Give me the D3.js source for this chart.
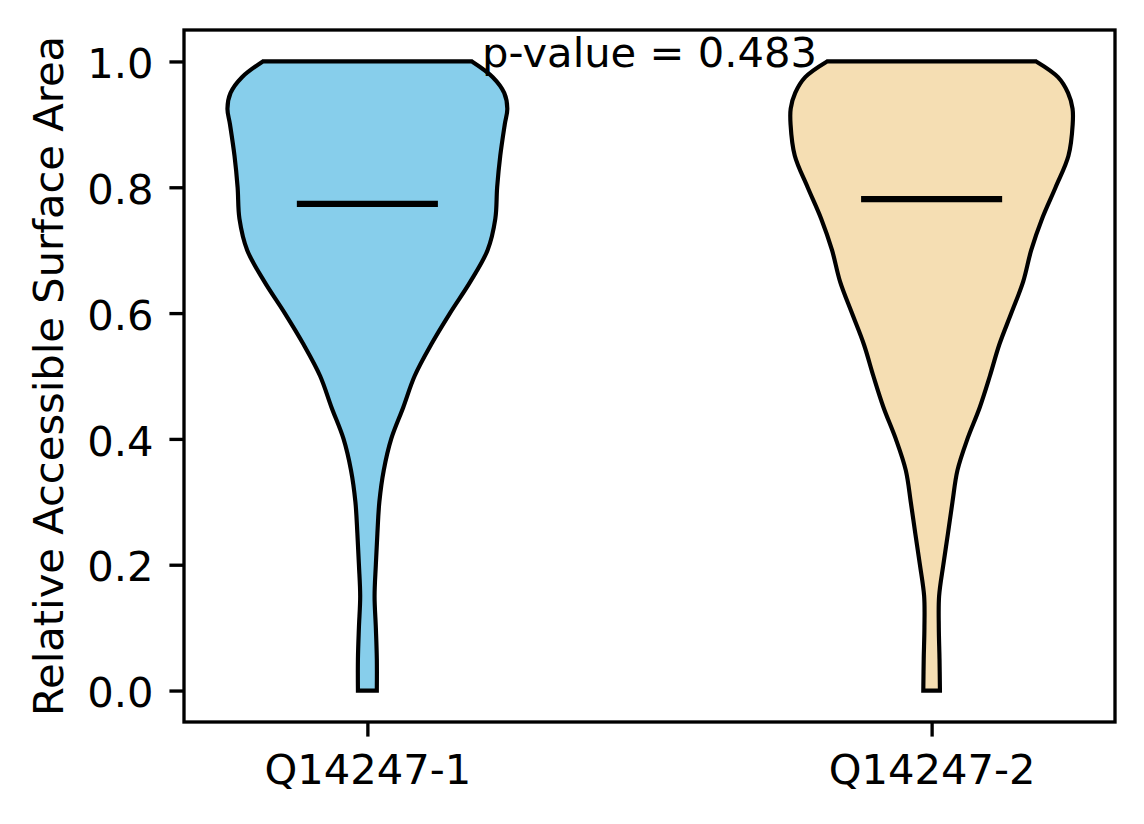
<!DOCTYPE html>
<html>
<head>
<meta charset="utf-8">
<script src="https://cdn.jsdelivr.net/npm/d3@7"></script>
<style>
  html, body { margin: 0; padding: 0; background: #fff; }
  svg { display: block; }
  text { font-family: "DejaVu Sans", sans-serif; }
</style>
</head>
<body>
<svg id="chart" width="1144" height="824"></svg>
<script>
// ---- data ----
const categories = ["Q14247-1", "Q14247-2"];
const positions = [1, 2];
const colors = ["#87CEEB", "#F5DEB3"];
// RSA grid at which the violin outline (relative density) was read
const rsaGrid = [0.00, 0.05, 0.10, 0.15, 0.20, 0.25, 0.30, 0.35, 0.40, 0.45, 0.50,
                 0.55, 0.60, 0.65, 0.70, 0.75, 0.80, 0.85, 0.90, 0.925, 0.95, 0.975, 1.00];
const densityQ1 = [0.067, 0.067, 0.060, 0.051, 0.060, 0.071, 0.085, 0.116, 0.169, 0.254, 0.335,
                   0.452, 0.586, 0.730, 0.852, 0.907, 0.920, 0.942, 0.974, 0.992, 0.970, 0.889, 0.741];
const densityQ2 = [0.059, 0.056, 0.051, 0.053, 0.083, 0.116, 0.148, 0.183, 0.254, 0.341, 0.413,
                   0.480, 0.565, 0.649, 0.706, 0.783, 0.879, 0.970, 1.000, 0.999, 0.967, 0.896, 0.741];
const medians = [0.7735, 0.781];
const yTicks = [0.0, 0.2, 0.4, 0.6, 0.8, 1.0];
const pValueText = "p-value = 0.483";
const yLabel = "Relative Accessible Surface Area";

// ---- layout ----
const W = 1144, H = 824;
const plot = { left: 184, right: 1115, top: 30, bottom: 722 };
const dpi = 300 / 72;
const fontPx = 10 * dpi;
const violinWidth = 0.5;

const svg = d3.select("#chart");

const x = d3.scaleLinear().domain([0.675, 2.325]).range([plot.left, plot.right]);
const y = d3.scaleLinear().domain([-0.05, 1.05]).range([plot.bottom, plot.top]);

const densities = [densityQ1, densityQ2];

// violins
densities.forEach((dens, i) => {
  const pos = positions[i];
  const pts = rsaGrid.map((v, j) => ({ v, d: dens[j] }));
  const area = d3.area()
    .y(d => y(d.v))
    .x0(d => x(pos - d.d * violinWidth / 2))
    .x1(d => x(pos + d.d * violinWidth / 2))
    .curve(d3.curveCatmullRom.alpha(0.5));
  svg.append("path")
    .datum(pts)
    .attr("d", area)
    .attr("fill", colors[i])
    .attr("stroke", "#000")
    .attr("stroke-width", 1 * dpi)
    .attr("stroke-linejoin", "miter");
  // median line
  svg.append("line")
    .attr("x1", x(pos - violinWidth / 4))
    .attr("x2", x(pos + violinWidth / 4))
    .attr("y1", y(medians[i]))
    .attr("y2", y(medians[i]))
    .attr("stroke", "#000")
    .attr("stroke-width", 1.5 * dpi);
});

// axes
const yAxis = d3.axisLeft(y).tickValues(yTicks).tickFormat(d3.format(".1f"))
  .tickSize(3.5 * dpi).tickPadding(16);
const gy = svg.append("g").attr("transform", `translate(${plot.left},0)`).call(yAxis);
gy.select(".domain").remove();
gy.selectAll(".tick line").attr("stroke", "#000").attr("stroke-width", 0.8 * dpi);
gy.selectAll(".tick text").attr("font-size", fontPx).attr("fill", "#000")
  .attr("font-family", "DejaVu Sans").attr("dy", "0.39em");

const xAxis = d3.axisBottom(x).tickValues(positions).tickFormat((d, i) => categories[i])
  .tickSize(3.5 * dpi).tickPadding(17.4);
const gx = svg.append("g").attr("transform", `translate(0,${plot.bottom})`).call(xAxis);
gx.select(".domain").remove();
gx.selectAll(".tick line").attr("stroke", "#000").attr("stroke-width", 0.8 * dpi);
gx.selectAll(".tick text").attr("font-size", fontPx).attr("fill", "#000")
  .attr("font-family", "DejaVu Sans");

// frame
svg.append("rect")
  .attr("x", plot.left).attr("y", plot.top)
  .attr("width", plot.right - plot.left).attr("height", plot.bottom - plot.top)
  .attr("fill", "none").attr("stroke", "#000").attr("stroke-width", 0.8 * dpi);

// y label
svg.append("text")
  .attr("transform", `translate(63.3,${(plot.top + plot.bottom) / 2}) rotate(-90)`)
  .attr("text-anchor", "middle")
  .attr("font-size", fontPx)
  .attr("fill", "#000")
  .text(yLabel);

// p-value annotation
svg.append("text")
  .attr("x", x(1.5))
  .attr("y", y(1.0) + 5.5)
  .attr("text-anchor", "middle")
  .attr("font-size", fontPx)
  .attr("fill", "#000")
  .text(pValueText);
</script>
</body>
</html>
